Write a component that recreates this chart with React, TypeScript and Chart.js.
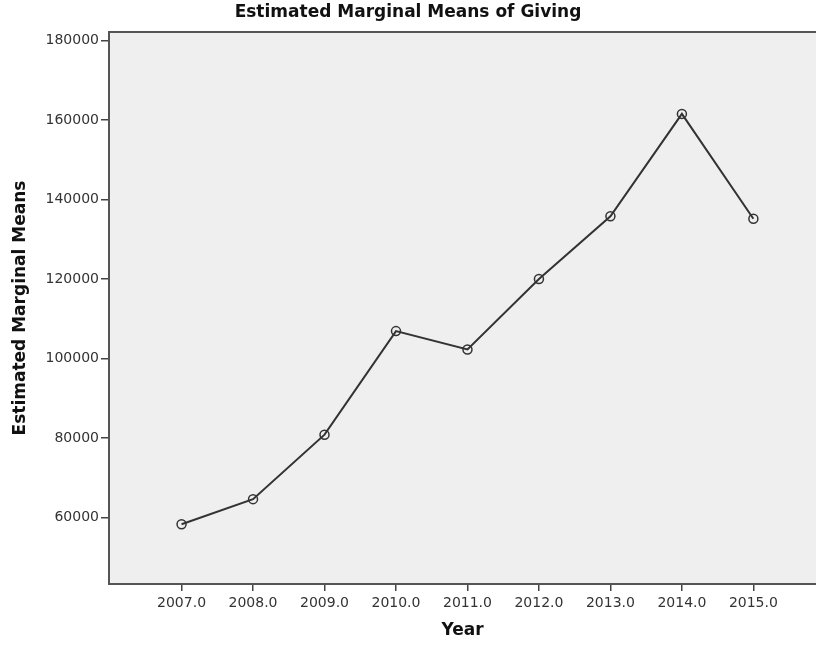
import React, { useEffect, useRef } from "react";
import { Chart, registerables } from "chart.js";

Chart.register(...registerables);

const years = [2007, 2008, 2009, 2010, 2011, 2012, 2013, 2014, 2015];
const means = [58340, 64640, 80850, 106890, 102280, 120000, 135780, 161510, 135130];
const yTicks = [60000, 80000, 100000, 120000, 140000, 160000, 180000];
const chartTitle = "Estimated Marginal Means of Giving";
const xTitle = "Year";
const yTitle = "Estimated Marginal Means";

const W = 816;
const H = 646;

const plotBg = {
  id: "plotBg",
  beforeDraw(chart: any) {
    const { ctx, chartArea } = chart;
    ctx.save();
    ctx.fillStyle = "#efefef";
    ctx.fillRect(chartArea.left, chartArea.top, chartArea.right - chartArea.left, chartArea.bottom - chartArea.top);
    ctx.restore();
  },
  afterDraw(chart: any) {
    const { ctx, chartArea } = chart;
    ctx.save();
    ctx.strokeStyle = "#555";
    ctx.lineWidth = 2;
    ctx.beginPath();
    ctx.moveTo(chartArea.left - 1, chartArea.top);
    ctx.lineTo(chartArea.right, chartArea.top);
    ctx.stroke();
    ctx.restore();
  },
};

export default function App() {
  const ref = useRef<HTMLCanvasElement | null>(null);

  useEffect(() => {
    if (!ref.current) return;
    const chart = new Chart(ref.current, {
      type: "line",
      data: {
        datasets: [
          {
            data: years.map((x, i) => ({ x, y: means[i] })),
            borderColor: "#333",
            borderWidth: 2,
            tension: 0,
            pointRadius: 4.5,
            pointBorderWidth: 1.5,
            pointBorderColor: "#333",
            pointBackgroundColor: "rgba(0,0,0,0)",
            fill: false,
          },
        ],
      },
      options: {
        responsive: false,
        animation: false,
        devicePixelRatio: 1,
        layout: { autoPadding: false, padding: { top: 0, left: 0, right: 0, bottom: 0 } },
        plugins: {
          legend: { display: false },
          tooltip: { enabled: false },
          title: {
            display: true,
            text: chartTitle,
            color: "#111",
            font: { family: "DejaVu Sans", size: 17, weight: "bold" },
            padding: { top: 2, bottom: 9.6 },
          },
        },
        scales: {
          x: {
            type: "linear",
            min: 2005.985,
            max: 2015.876,
            afterBuildTicks: (scale: any) => {
              scale.ticks = years.map((v) => ({ value: v }));
            },
            afterFit: (scale: any) => {
              scale.height = 62;
            },
            ticks: {
              callback: (v: any) => Number(v).toFixed(1),
              color: "#333",
              font: { family: "DejaVu Sans", size: 14 },
              padding: 4,
              maxRotation: 0,
              autoSkip: false,
            },
            grid: { drawOnChartArea: false, drawTicks: true, tickLength: 7, color: "#444", lineWidth: 1.5 },
            border: { display: true, color: "#555", width: 2 },
            title: {
              display: true,
              text: xTitle,
              color: "#111",
              font: { family: "DejaVu Sans", size: 17, weight: "bold" },
              padding: { top: 0, bottom: 5 },
            },
          },
          y: {
            type: "linear",
            min: 43300,
            max: 182100,
            afterBuildTicks: (scale: any) => {
              scale.ticks = yTicks.map((v) => ({ value: v }));
            },
            afterFit: (scale: any) => {
              scale.width = 109;
            },
            ticks: {
              callback: (v: any) => String(v),
              color: "#333",
              font: { family: "DejaVu Sans", size: 14 },
              padding: 2,
              autoSkip: false,
            },
            grid: { drawOnChartArea: false, drawTicks: true, tickLength: 8, color: "#444", lineWidth: 1.5 },
            border: { display: true, color: "#555", width: 2 },
            title: {
              display: true,
              text: yTitle,
              color: "#111",
              font: { family: "DejaVu Sans", size: 17, weight: "bold" },
              padding: { top: 10, bottom: 0 },
            },
          },
        },
      },
      plugins: [plotBg],
    });
    return () => chart.destroy();
  }, []);

  return (
    <div style={{ position: "fixed", left: 0, top: 0, width: W, height: H, background: "#fff", overflow: "hidden" }}>
      <canvas ref={ref} width={W} height={H} style={{ display: "block", width: W, height: H }} />
    </div>
  );
}
